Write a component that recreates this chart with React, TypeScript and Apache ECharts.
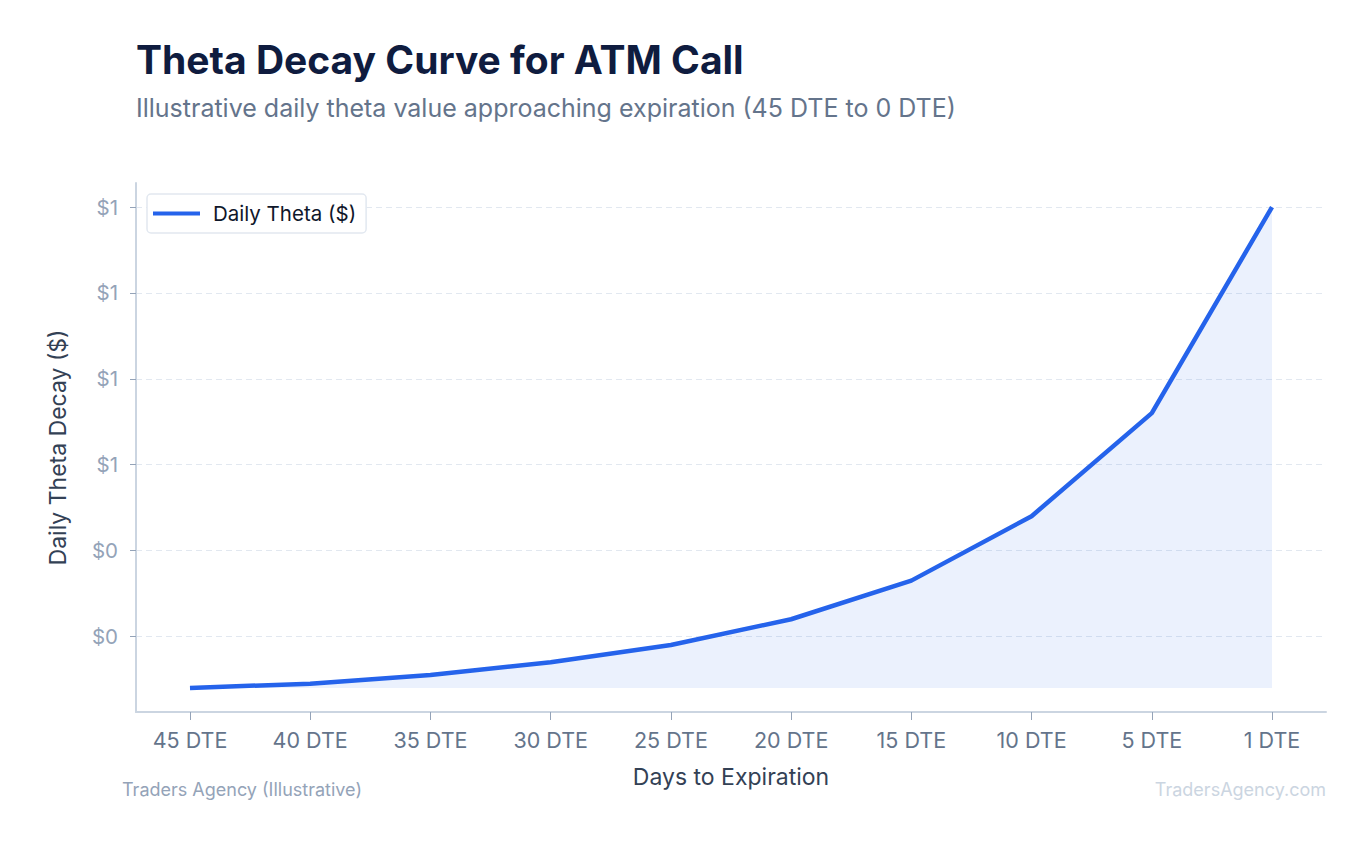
import React from "react";
import * as echarts from "echarts";

// ---------- Data ----------
const categories = ["45 DTE", "40 DTE", "35 DTE", "30 DTE", "25 DTE", "20 DTE", "15 DTE", "10 DTE", "5 DTE", "1 DTE"];
const theta = [0.08, 0.09, 0.11, 0.14, 0.18, 0.24, 0.33, 0.48, 0.72, 1.2];
const yTicks = [0.2, 0.4, 0.6, 0.8, 1.0, 1.2];
const seriesName = "Daily Theta ($)";

const FONT = "Inter, 'Noto Sans', sans-serif";

export default function App() {
  const ref = React.useRef<HTMLDivElement>(null);

  React.useEffect(() => {
    const el = ref.current;
    if (!el) return;
    const chart = echarts.init(el, undefined, { renderer: "svg" });

    const lo = Math.min(...theta);
    const hi = Math.max(...theta);
    const grace = (hi - lo) * 0.05;
    const xIdx = categories.map((_, i) => i);

    const option: echarts.EChartsOption = {
      animation: false,
      backgroundColor: "#ffffff",
      textStyle: { fontFamily: FONT },
      title: [
        {
          text: "Theta Decay Curve for ATM Call",
          left: 136,
          top: 40,
          padding: 0,
          textStyle: { fontFamily: FONT, fontSize: 39, fontWeight: 700, color: "#0f1c3f" },
        },
        {
          text: "Illustrative daily theta value approaching expiration (45 DTE to 0 DTE)",
          left: 136,
          top: 95,
          padding: 0,
          textStyle: { fontFamily: FONT, fontSize: 25, fontWeight: 400, color: "#64748b" },
        },
        {
          text: "Traders Agency (Illustrative)",
          left: 122,
          top: 780,
          padding: 0,
          textStyle: { fontFamily: FONT, fontSize: 18, fontWeight: 400, color: "#94a3b8" },
        },
        {
          text: "TradersAgency.com",
          right: 45,
          top: 780,
          padding: 0,
          textStyle: { fontFamily: FONT, fontSize: 18, fontWeight: 400, color: "#cbd5e1" },
        },
      ],
      legend: {
        left: 147,
        top: 194,
        data: [{ name: seriesName, icon: "rect" }],
        backgroundColor: "#ffffff",
        borderColor: "#e2e8f0",
        borderWidth: 1.5,
        borderRadius: 4,
        padding: [9, 10, 9, 6],
        itemWidth: 47,
        itemHeight: 4,
        textStyle: { fontFamily: FONT, fontSize: 20.5, color: "#0f172a", padding: [0, 0, 0, 8] },
      },
      grid: { left: 136, right: 45, top: 183, bottom: 133, containLabel: false },
      xAxis: {
        type: "value",
        min: -0.449,
        max: categories.length - 1 + 0.449,
        name: "Days to Expiration",
        nameLocation: "middle",
        nameGap: 53,
        nameTextStyle: { fontFamily: FONT, fontSize: 23, color: "#334155" },
        axisLine: { show: true, onZero: false, lineStyle: { color: "#cbd5e1", width: 2 } },
        axisTick: { show: true, length: 8, customValues: xIdx, lineStyle: { color: "#94a3b8", width: 1 } },
        axisLabel: {
          customValues: xIdx,
          margin: 17,
          fontFamily: FONT,
          fontSize: 21.5,
          color: "#64748b",
          formatter: (v: number) => categories[Math.round(v)] ?? "",
        },
        splitLine: { show: false },
      },
      yAxis: {
        type: "value",
        min: lo - grace,
        max: hi + grace,
        name: "Daily Theta Decay ($)",
        nameLocation: "middle",
        nameGap: 67,
        nameTextStyle: { fontFamily: FONT, fontSize: 23, color: "#334155" },
        axisLine: { show: true, onZero: false, lineStyle: { color: "#cbd5e1", width: 2 } },
        axisTick: { show: true, length: 6, customValues: yTicks, lineStyle: { color: "#94a3b8", width: 1 } },
        axisLabel: {
          customValues: yTicks,
          margin: 18,
          fontFamily: FONT,
          fontSize: 20.5,
          color: "#94a3b8",
          formatter: (v: number) => "$" + v.toFixed(0),
        },
        splitLine: { show: true, lineStyle: { color: "#e2e8f0", type: [6, 4], width: 1 } },
      },
      series: [
        {
          name: seriesName,
          type: "line",
          data: theta.map((v, i) => [i, v]),
          symbol: "none",
          lineStyle: { color: "#2563eb", width: 4.5 },
          itemStyle: { color: "#2563eb" },
          areaStyle: { color: "rgba(37,99,235,0.13)", origin: lo },
        },
      ],
    };

    chart.setOption(option);
    const onResize = () => chart.resize();
    window.addEventListener("resize", onResize);
    return () => {
      window.removeEventListener("resize", onResize);
      chart.dispose();
    };
  }, []);

  return <div ref={ref} style={{ position: "fixed", left: 0, top: 0, width: "100vw", height: "100vh" }} />;
}
